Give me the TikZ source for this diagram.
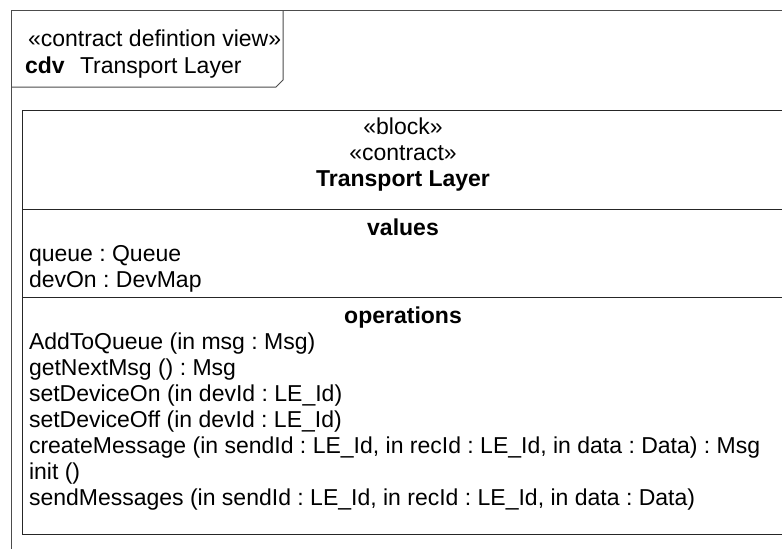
\documentclass[tikz,border=0pt]{standalone}
\usepackage{fontspec}
\setmainfont{Liberation Sans}
\frenchspacing
\begin{document}
\begin{tikzpicture}[x=1pt,y=-1pt,
  txt/.style={inner sep=0pt, outer sep=0pt, font=\fontsize{23}{26}\selectfont},
  bold/.style={txt, font=\fontsize{23}{26}\selectfont\bfseries},
  framepen/.style={draw=black!70, line width=1pt},
  blockpen/.style={draw=black!85, line width=1pt}]
\useasboundingbox (0,0) rectangle (782,549);
\clip (0,0) rectangle (782,549);
\fill[white] (0,0) rectangle (782,549);

% diagram frame with its name tab
\draw[framepen] (11,560) -- (11,10) -- (800,10);
\draw[framepen] (11,87) -- (276,87) -- (283,80) -- (283,10);
\node[txt, anchor=base west] (kind) at (28,46) {«contract defintion view»};
\node[bold, anchor=base west] (abbr) at (25,73) {cdv};
\node[txt, anchor=base west] (fname) at (80,73) {Transport Layer};

% block outline and compartment separators
\draw[blockpen] (800,110.5) -- (22,110.5) -- (22,534.5) -- (800,534.5);
\draw[blockpen] (22,209) -- (800,209);
\draw[blockpen] (22,297) -- (800,297);

% name compartment
\node[txt, anchor=base] (st1) at (403,134) {«block»};
\node[txt, anchor=base] (st2) at (403,160) {«contract»};
\node[bold, anchor=base] (bname) at (403,186) {Transport Layer};

% values compartment
\node[bold, anchor=base] (vh) at (403,235) {values};
\node[txt, anchor=base west] (v1) at (29,261) {queue : Queue};
\node[txt, anchor=base west] (v2) at (29,287) {devOn : DevMap};

% operations compartment
\node[bold, anchor=base] (oh) at (403,323) {operations};
\node[txt, anchor=base west] (o1) at (29,349) {AddToQueue (in msg : Msg)};
\node[txt, anchor=base west] (o2) at (29,375) {getNextMsg () : Msg};
\node[txt, anchor=base west] (o3) at (29,401) {setDeviceOn (in devId : LE\_Id)};
\node[txt, anchor=base west] (o4) at (29,427) {setDeviceOff (in devId : LE\_Id)};
\node[txt, anchor=base west] (o5) at (29,453) {createMessage (in sendId : LE\_Id, in recId : LE\_Id, in data : Data) : Msg};
\node[txt, anchor=base west] (o6) at (29,479) {init ()};
\node[txt, anchor=base west] (o7) at (29,505) {sendMessages (in sendId : LE\_Id, in recId : LE\_Id, in data : Data)};
\end{tikzpicture}
\end{document}
